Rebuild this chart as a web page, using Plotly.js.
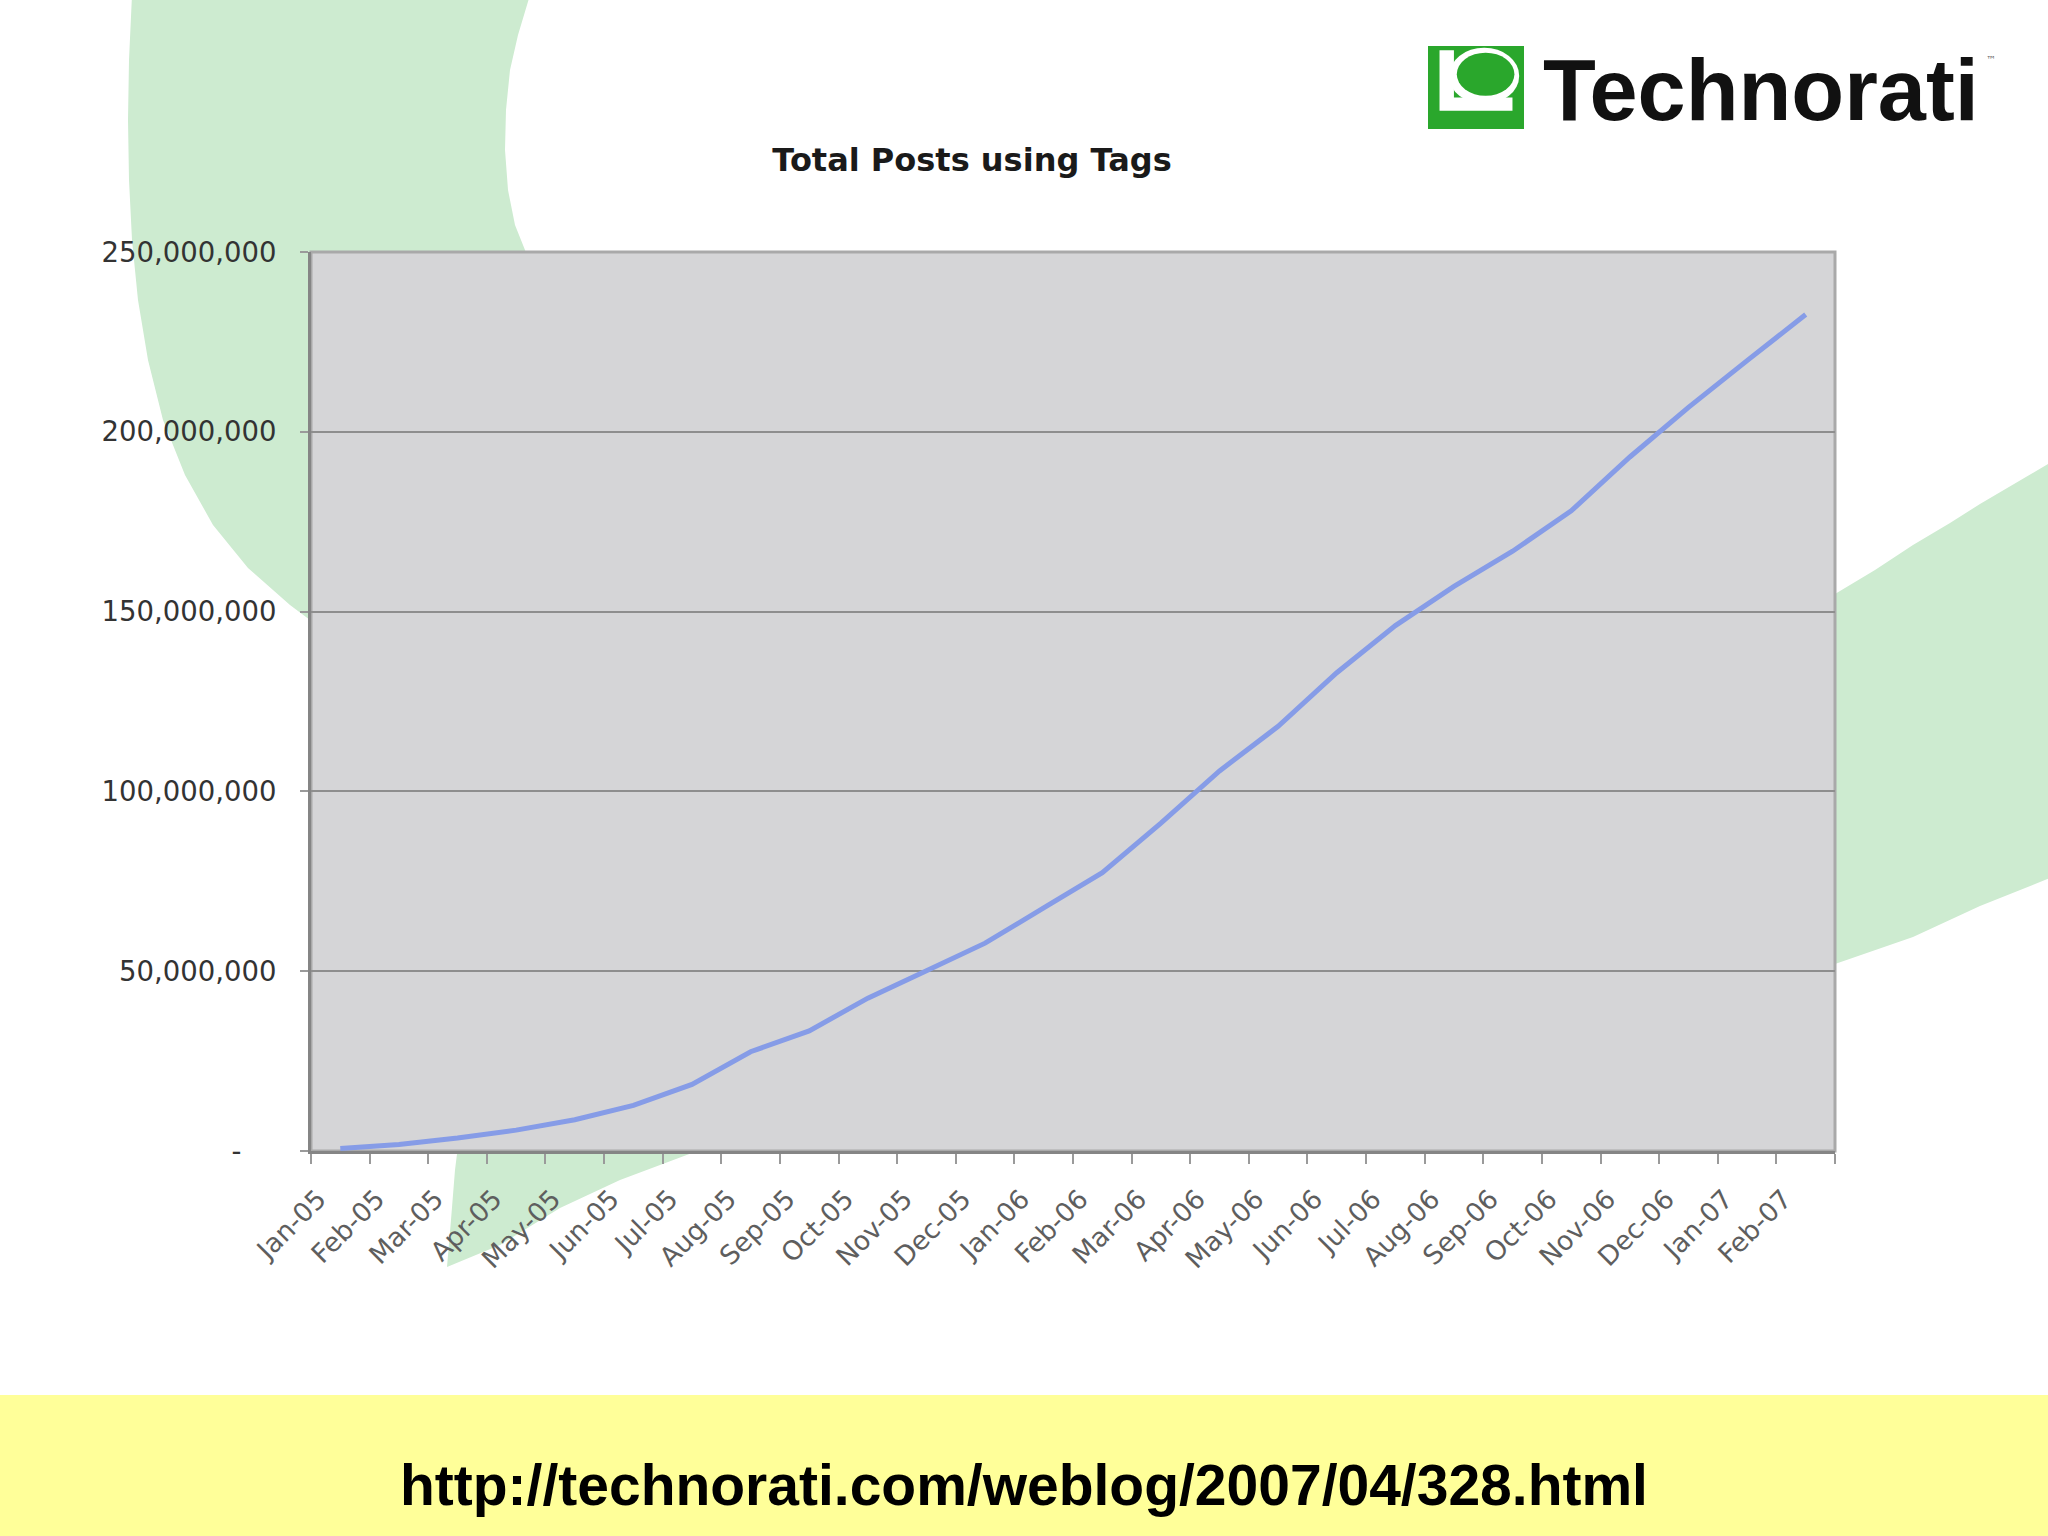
<!DOCTYPE html>
<html>
<head>
<meta charset="utf-8">
<script src="https://cdn.plot.ly/plotly-3.0.1.min.js"></script>
<style>
  html, body { margin: 0; padding: 0; background: #ffffff; }
  #chart { width: 2048px; height: 1536px; }
</style>
</head>
<body>
<div id="chart"></div>
<script>
// ---- data ----
const months = ["Jan-05","Feb-05","Mar-05","Apr-05","May-05","Jun-05","Jul-05","Aug-05","Sep-05","Oct-05","Nov-05","Dec-05",
                "Jan-06","Feb-06","Mar-06","Apr-06","May-06","Jun-06","Jul-06","Aug-06","Sep-06","Oct-06","Nov-06","Dec-06",
                "Jan-07","Feb-07"];
const totalPosts = [700000, 1800000, 3600000, 5800000, 8700000, 12700000, 18500000, 27600000, 33400000, 42500000, 50100000, 57800000,
                    67600000, 77400000, 91200000, 105700000, 118100000, 133000000, 146100000, 157000000, 166800000, 178000000, 193000000, 206800000,
                    219800000, 232600000];
const yTickVals = [0, 50000000, 100000000, 150000000, 200000000, 250000000];
const yTickText = ["-\u00a0\u00a0\u00a0\u00a0", "50,000,000", "100,000,000", "150,000,000", "200,000,000", "250,000,000"];
const chartTitle = "Total Posts using Tags";
const logoText = "Technorati";
const sourceUrl = "http://technorati.com/weblog/2007/04/328.html";

// ---- page geometry (pixels) ----
const PL = 311, PR = 1835, PT = 252, PB = 1151;
function px(x) { return (x - PL) / (PR - PL); }
function py(y) { return (PB - y) / (PB - PT); }
function poly(pts) { return 'M' + pts.map(p => px(p[0]).toFixed(5) + ',' + py(p[1]).toFixed(5)).join('L') + 'Z'; }

const GREEN_BG = '#cdebd0';
const LOGO_GREEN = '#2aa72c';
// logo icon box
const IX0 = 1428, IX1 = 1524, IY0 = 46, IY1 = 129;
function ix(r) { return IX0 + r * (IX1 - IX0); }
function iy(r) { return IY0 + r * (IY1 - IY0); }

const shapes = [
  // upper-left swoosh (outer edge down the left, inner edge back up)
  { type: 'path', xref: 'paper', yref: 'paper', layer: 'below', line: { width: 0 }, fillcolor: GREEN_BG,
    path: poly([[132,-5],[129,60],[128,120],[129,180],[132,240],[138,300],[148,360],[163,420],[185,475],[213,525],
                [248,568],[290,605],[330,635],[700,700],[560,300],[527,255],[515,225],[508,190],[505,150],[506,110],
                [510,70],[518,35],[530,-5]]) },
  // lower tip below x axis
  { type: 'path', xref: 'paper', yref: 'paper', layer: 'below', line: { width: 0 }, fillcolor: GREEN_BG,
    path: poly([[460,1130],[455,1170],[451,1220],[447,1267],[500,1245],[560,1208],[620,1180],[700,1150],[740,1130]]) },
  // right band
  { type: 'path', xref: 'paper', yref: 'paper', layer: 'below', line: { width: 0 }, fillcolor: GREEN_BG,
    path: poly([[1800,612],[1835,594],[1875,570],[1913,545],[1950,523],[1980,504],[2055,460],
                [2055,876],[1980,906],[1913,937],[1835,964],[1800,975]]) },
  // yellow banner
  { type: 'rect', xref: 'paper', yref: 'paper', layer: 'below', line: { width: 0 }, fillcolor: '#ffff99',
    x0: px(-5), x1: px(2055), y0: py(1395), y1: py(1545) },
  // plot area background + light border
  { type: 'rect', xref: 'paper', yref: 'paper', layer: 'below', line: { width: 3, color: '#a9a9a9' }, fillcolor: '#d5d5d7',
    x0: 0, x1: 1, y0: 0, y1: 1 },
  // logo icon
  { type: 'rect', xref: 'paper', yref: 'paper', layer: 'above', line: { width: 0 }, fillcolor: LOGO_GREEN,
    x0: px(ix(0)), x1: px(ix(1)), y0: py(iy(1)), y1: py(iy(0)) },
  { type: 'path', xref: 'paper', yref: 'paper', layer: 'above', line: { width: 0 }, fillcolor: '#ffffff',
    path: poly([[ix(0.12),iy(0.05)],[ix(0.27),iy(0.05)],[ix(0.27),iy(0.62)],[ix(0.88),iy(0.62)],[ix(0.88),iy(0.78)],[ix(0.12),iy(0.78)]]) },
  { type: 'circle', xref: 'paper', yref: 'paper', layer: 'above', line: { width: 0 }, fillcolor: '#ffffff',
    x0: px(ix(0.22)), x1: px(ix(0.95)), y0: py(iy(0.70)), y1: py(iy(0.02)) },
  { type: 'circle', xref: 'paper', yref: 'paper', layer: 'above', line: { width: 0 }, fillcolor: LOGO_GREEN,
    x0: px(ix(0.30)), x1: px(ix(0.90)), y0: py(iy(0.60)), y1: py(iy(0.08)) }
];

const annotations = [
  { text: '<b>' + logoText + '</b>', xref: 'paper', yref: 'paper', x: px(1541), y: py(90), xanchor: 'left', yanchor: 'middle',
    showarrow: false, font: { family: 'Liberation Sans, Arial, sans-serif', size: 86.5, color: '#111111' } },
  { text: '\u2122', xref: 'paper', yref: 'paper', x: px(1984), y: py(60), xanchor: 'left', yanchor: 'middle',
    showarrow: false, font: { family: 'DejaVu Sans, sans-serif', size: 10, color: '#666666' } },
  { text: '<b>' + sourceUrl + '</b>', xref: 'paper', yref: 'paper', x: px(1024), y: py(1485), xanchor: 'center', yanchor: 'middle',
    showarrow: false, font: { family: 'Liberation Sans, Arial, sans-serif', size: 57, color: '#000000' } }
];

const trace = {
  type: 'scatter', mode: 'lines', x: months, y: totalPosts,
  line: { color: '#869ce7', width: 5 }, hoverinfo: 'skip', showlegend: false
};

const layout = {
  width: 2048, height: 1536,
  margin: { l: PL, r: 2048 - PR, t: PT, b: 1536 - PB, pad: 0 },
  paper_bgcolor: '#ffffff', plot_bgcolor: 'rgba(0,0,0,0)',
  showlegend: false,
  title: { text: '<b>' + chartTitle + '</b>', xref: 'paper', x: px(972), xanchor: 'center',
           yref: 'container', y: 1 - 160 / 1536, yanchor: 'middle',
           font: { family: 'DejaVu Sans, Verdana, sans-serif', size: 32, color: '#1a1a1a' } },
  xaxis: {
    type: 'category', range: [-0.5, months.length - 0.5], tickson: 'boundaries',
    showgrid: false, zeroline: false,
    showline: true, linecolor: '#858585', linewidth: 3,
    ticks: 'outside', ticklen: 10, tickwidth: 2, tickcolor: '#9a9a9a',
    tickangle: -45, ticklabelshift: -22, ticklabelstandoff: 19,
    tickfont: { family: 'DejaVu Sans, Verdana, sans-serif', size: 26.5, color: '#5e5e5e' },
    fixedrange: true
  },
  yaxis: {
    range: [0, 250000000], tickvals: yTickVals, ticktext: yTickText,
    showgrid: true, gridcolor: '#8e8e8e', gridwidth: 2, zeroline: false,
    showline: true, linecolor: '#858585', linewidth: 3,
    ticks: 'outside', ticklen: 8, tickwidth: 2, tickcolor: '#9a9a9a',
    ticklabelstandoff: 18,
    tickfont: { family: 'DejaVu Sans, Verdana, sans-serif', size: 27.5, color: '#333333' },
    fixedrange: true
  },
  shapes: shapes,
  annotations: annotations
};

Plotly.newPlot('chart', [trace], layout, { displayModeBar: false, staticPlot: true });
</script>
</body>
</html>
